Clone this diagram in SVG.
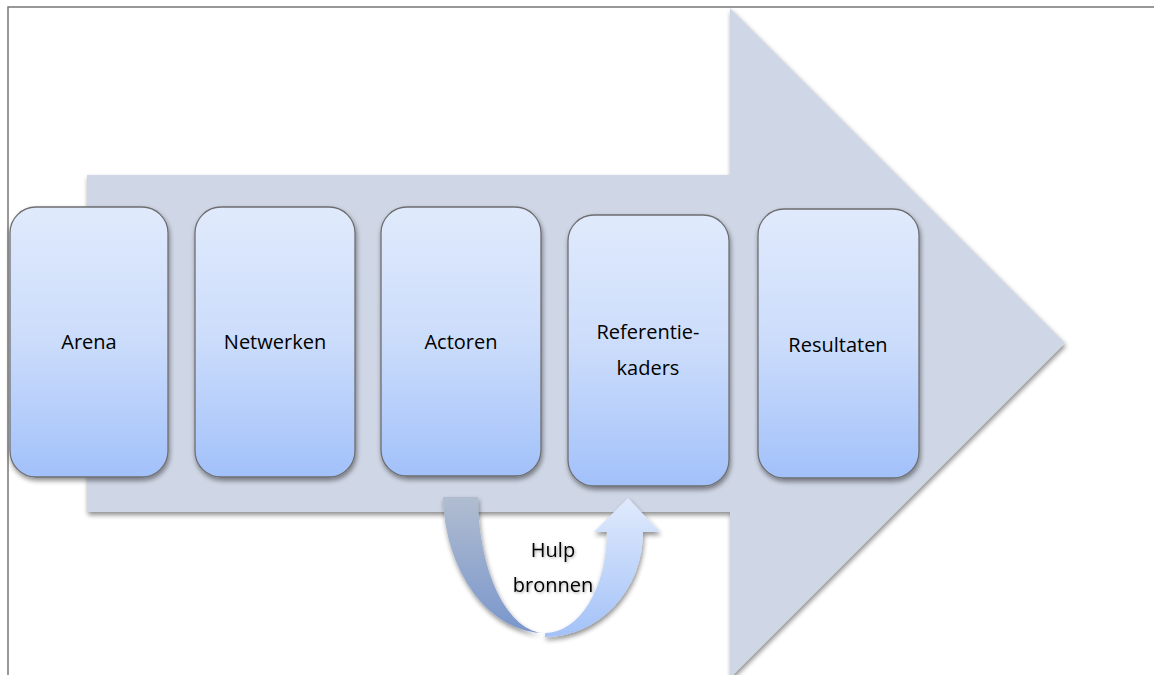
<svg xmlns="http://www.w3.org/2000/svg" width="1154" height="675" viewBox="0 0 1154 675">
<defs>
<linearGradient id="boxg" x1="0" y1="0" x2="0" y2="1">
<stop offset="0" stop-color="#e0eafc"/>
<stop offset="0.5" stop-color="#cbdcfb"/>
<stop offset="1" stop-color="#a2c1fa"/>
</linearGradient>
<linearGradient id="leftg" x1="0" y1="0" x2="0" y2="1">
<stop offset="0" stop-color="#b1bdd0"/>
<stop offset="1" stop-color="#7996cc"/>
</linearGradient>
<linearGradient id="rightg" x1="0" y1="0" x2="0" y2="1">
<stop offset="0" stop-color="#e0eafc"/>
<stop offset="1" stop-color="#a3c2f8"/>
</linearGradient>
<filter id="sh" x="-10%" y="-10%" width="125%" height="125%">
<feGaussianBlur in="SourceAlpha" stdDeviation="2.5"/>
<feOffset dx="1" dy="3" result="b"/>
<feComponentTransfer><feFuncA type="linear" slope="0.45"/></feComponentTransfer>
<feMerge><feMergeNode/><feMergeNode in="SourceGraphic"/></feMerge>
</filter>
<filter id="glow" x="-20%" y="-30%" width="140%" height="160%">
<feGaussianBlur in="SourceAlpha" stdDeviation="1.5"/>
<feOffset dx="1" dy="1"/>
<feComponentTransfer><feFuncA type="linear" slope="0.35"/></feComponentTransfer>
<feMerge><feMergeNode/><feMergeNode in="SourceGraphic"/></feMerge>
</filter>
</defs>
<style>
.box{fill:url(#boxg);stroke:#6e6e70;stroke-width:1.3;filter:url(#sh)}
.lbl{font-family:"Open Sans","Liberation Sans",sans-serif;font-size:20px;fill:#000;text-anchor:middle}
</style>
<rect width="1154" height="675" fill="#ffffff"/>
<g id="frame" stroke="#777" stroke-width="1.5" fill="none">
<path d="M8,675 L8,7 L1154,7"/>
</g>
<g id="big-arrow">
<path d="M87,175 L730,175 L730,8 L1065,343 L730,678 L730,512 L87,512 Z" fill="#cfd6e5" filter="url(#sh)"/>
</g>
<g id="connectors">
<g id="hulp-arrow" filter="url(#sh)">
<path d="M443,497 L478,497 A67,136 0 0 0 545,633 A102,140 0 0 1 443,497 Z" fill="url(#leftg)"/>
<path d="M545,637 A98,105 0 0 0 643,532 L660,532 L628,498 L594,532 L607,532 A62,101 0 0 1 545,633 Z" fill="url(#rightg)"/>
</g>
</g>
<g id="node-arena">
<rect class="box" x="10" y="207" width="158" height="270" rx="26"/>
<text class="lbl" x="89" y="349">Arena</text>
</g>
<g id="node-netwerken">
<rect class="box" x="195" y="207" width="160" height="270" rx="26"/>
<text class="lbl" x="275" y="349">Netwerken</text>
</g>
<g id="node-actoren">
<rect class="box" x="381" y="207" width="160" height="269" rx="26"/>
<text class="lbl" x="461" y="349">Actoren</text>
</g>
<g id="node-referentiekaders">
<rect class="box" x="568" y="215" width="161" height="271" rx="26"/>
<text class="lbl" x="648" y="339">Referentie-</text>
<text class="lbl" x="648" y="375">kaders</text>
</g>
<g id="node-resultaten">
<rect class="box" x="758" y="209" width="161" height="269" rx="26"/>
<text class="lbl" x="838" y="352">Resultaten</text>
</g>
<g id="label-hulp" filter="url(#glow)">
<text class="lbl" x="553" y="557">Hulp</text>
<text class="lbl" x="553" y="592">bronnen</text>
</g>
</svg>
